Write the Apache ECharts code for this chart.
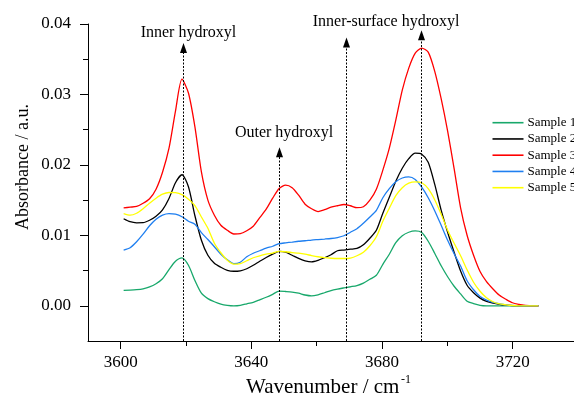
<!DOCTYPE html>
<html>
<head>
<meta charset="utf-8">
<script src="https://cdn.jsdelivr.net/npm/echarts@6/dist/echarts.min.js"></script>
<style>
html,body{margin:0;padding:0;background:#fff;}
#chart{width:574px;height:396px;}
</style>
</head>
<body>
<div id="chart"></div>
<script>
// ---- data ----
const wavenumbers = [3601,3603,3605,3607,3609,3611,3613,3615,3617,3619,3621,3623,3625,3627,3629,3631,3633,3635,3637,3639,3641,3643,3645,3647,3649,3651,3653,3655,3657,3659,3661,3663,3665,3667,3669,3671,3673,3675,3677,3679,3681,3683,3685,3687,3689,3691,3693,3695,3697,3699,3701,3703,3705,3707,3709,3711,3713,3715,3717,3719,3721,3723,3725,3727,3729];

const sample1 = [0.00220,0.00223,0.00229,0.00241,0.00267,0.00313,0.00384,0.00514,0.00632,0.00680,0.00575,0.00358,0.00178,0.00102,0.00057,0.00024,0.00007,0.00000,0.00007,0.00028,0.00050,0.00085,0.00121,0.00163,0.00209,0.00203,0.00195,0.00178,0.00153,0.00141,0.00156,0.00185,0.00216,0.00237,0.00254,0.00270,0.00287,0.00322,0.00376,0.00433,0.00589,0.00732,0.00895,0.00994,0.01044,0.01063,0.01040,0.00916,0.00746,0.00568,0.00412,0.00277,0.00168,0.00064,0.00031,0.00007,0,0,0,0,0,0,0,0,0];

const sample2 = [0.01236,0.01193,0.01178,0.01179,0.01214,0.01271,0.01362,0.01523,0.01747,0.01860,0.01690,0.01278,0.00930,0.00717,0.00604,0.00547,0.00504,0.00490,0.00497,0.00526,0.00575,0.00632,0.00685,0.00732,0.00771,0.00760,0.00717,0.00672,0.00639,0.00624,0.00646,0.00682,0.00724,0.00781,0.00791,0.00803,0.00814,0.00866,0.00959,0.01072,0.01314,0.01541,0.01768,0.01953,0.02088,0.02166,0.02152,0.02038,0.01726,0.01357,0.01044,0.00760,0.00493,0.00291,0.00185,0.00109,0.00064,0.00038,0.00021,0.00010,0.00003,0,0,0,0];

const sample3 = [0.01389,0.01400,0.01410,0.01456,0.01520,0.01655,0.01896,0.02237,0.02763,0.03217,0.03020,0.02540,0.01900,0.01500,0.01286,0.01143,0.01072,0.01019,0.01023,0.01065,0.01129,0.01250,0.01371,0.01527,0.01665,0.01712,0.01676,0.01570,0.01442,0.01378,0.01337,0.01364,0.01399,0.01420,0.01438,0.01420,0.01392,0.01406,0.01499,0.01655,0.01925,0.02237,0.02635,0.03061,0.03374,0.03587,0.03658,0.03601,0.03332,0.02940,0.02479,0.01946,0.01390,0.01001,0.00717,0.00487,0.00344,0.00239,0.00149,0.00092,0.00043,0.00021,0.00007,0,0];

const sample4 = [0.00791,0.00824,0.00909,0.01016,0.01136,0.01229,0.01286,0.01307,0.01300,0.01264,0.01200,0.01158,0.01038,0.00940,0.00838,0.00732,0.00653,0.00597,0.00618,0.00696,0.00746,0.00781,0.00817,0.00845,0.00881,0.00894,0.00905,0.00916,0.00923,0.00933,0.00940,0.00947,0.00955,0.00969,0.00994,0.01044,0.01094,0.01172,0.01260,0.01354,0.01533,0.01662,0.01760,0.01814,0.01830,0.01793,0.01683,0.01534,0.01350,0.01143,0.00930,0.00739,0.00564,0.00355,0.00227,0.00131,0.00081,0.00047,0.00028,0.00013,0.00004,0,0,0,0];

const sample5 = [0.01308,0.01286,0.01314,0.01378,0.01456,0.01527,0.01584,0.01608,0.01605,0.01577,0.01513,0.01423,0.01260,0.01100,0.00888,0.00753,0.00646,0.00590,0.00599,0.00639,0.00682,0.00710,0.00732,0.00749,0.00771,0.00767,0.00756,0.00746,0.00732,0.00713,0.00696,0.00683,0.00675,0.00671,0.00671,0.00678,0.00710,0.00760,0.00852,0.00980,0.01200,0.01385,0.01563,0.01676,0.01740,0.01760,0.01747,0.01662,0.01506,0.01300,0.01072,0.00888,0.00710,0.00511,0.00334,0.00206,0.00114,0.00057,0.00026,0.00013,0.00004,0,0,0,0];

const seriesNames = ['Sample 1','Sample 2','Sample 3','Sample 4','Sample 5'];
const seriesColors = ['#18a86b','#000000','#ff0000','#1f7ff0','#ffff00'];

// axis ranges / tick values
const X_MIN = 3590, X_MAX = 3740;
const Y_MIN = -0.005, Y_MAX = 0.04;
const xMajorTicks = [3600, 3720, 40];   // from, to, step (labelled)
const xMinorTicks = [3620, 3700, 40];   // from, to, step
const yMajorTicks = [0, 0.04, 0.01];    // labelled
const yMinorTicks = [0.005, 0.035, 0.01];

// annotations (arrow positions in data units)
const arrowX   = [3619.3, 3649, 3669.5, 3692.8];
const arrowTop = [0.0373, 0.0225, 0.0381, 0.0391];
const annText  = ['Inner hydroxyl','Outer hydroxyl','Inner-surface hydroxyl'];
const annX     = [3621, 3650.5, 3682];
const annY     = [0.0388, 0.0246, 0.0403];

// ---- layout ----
const FONT = '"Liberation Serif","Times New Roman",serif';
const G = {left: 88, top: 24, width: 490, height: 317};
const xPx = v => G.left + (v - X_MIN) / (X_MAX - X_MIN) * G.width;
const yPx = v => G.top + (Y_MAX - v) / (Y_MAX - Y_MIN) * G.height;

function subGridX(t) { // grid spanning x tick range, same bottom
  return {left: xPx(t[0]), width: xPx(t[1]) - xPx(t[0]), top: G.top, height: G.height};
}
function subGridY(t) {
  return {left: G.left, width: G.width, top: yPx(t[1]), height: yPx(t[0]) - yPx(t[1])};
}

const chart = echarts.init(document.getElementById('chart'), null, {renderer:'canvas'});
const allSamples = [sample1, sample2, sample3, sample4, sample5];

const lineSeries = allSamples.map((vals, i) => ({
  name: seriesNames[i],
  type: 'line',
  xAxisIndex: 0, yAxisIndex: 0,
  data: wavenumbers.map((w, j) => [w, vals[j]]),
  symbol: 'none',
  smooth: 0.25,
  lineStyle: {color: seriesColors[i], width: 1.3},
  itemStyle: {color: seriesColors[i]},
  z: 3
}));

const arrowSeries = {
  type: 'custom',
  xAxisIndex: 0, yAxisIndex: 0,
  clip: false,
  silent: true,
  z: 5,
  data: arrowX.map((x, i) => [x, arrowTop[i]]),
  renderItem: function (params, api) {
    const x = api.value(0), top = api.value(1);
    const p0 = api.coord([x, Y_MIN]);
    const p1 = api.coord([x, top]);
    const px = Math.round(p0[0]) + 0.5;
    return {
      type: 'group',
      children: [
        {type: 'line', shape: {x1: px, y1: p0[1], x2: px, y2: p1[1] + 8},
         style: {stroke: '#000', lineWidth: 1, lineDash: [2, 1.5]}},
        {type: 'polygon', shape: {points: [[px, p1[1]], [px - 3.5, p1[1] + 10], [px + 3.5, p1[1] + 10]]},
         style: {fill: '#000'}}
      ]
    };
  }
};

const labelSeries = {
  type: 'custom',
  xAxisIndex: 0, yAxisIndex: 0,
  clip: false,
  silent: true,
  z: 6,
  data: annX.map((x, i) => [x, annY[i]]),
  renderItem: function (params, api) {
    const p = api.coord([api.value(0), api.value(1)]);
    return {
      type: 'text',
      x: p[0], y: p[1],
      style: {text: annText[params.dataIndex], fill: '#000',
        font: '16px ' + FONT, align: 'center', verticalAlign: 'middle'}
    };
  }
};

const hiddenAxis = (type, gi) => ({type: 'value', gridIndex: gi, show: false, min: 0, max: 1});
const labelStyle = {fontFamily: FONT, fontSize: 17, color: '#000'};

chart.setOption({
  animation: false,
  backgroundColor: '#fff',
  grid: [
    Object.assign({}, G),
    subGridX(xMajorTicks),
    subGridX(xMinorTicks),
    subGridY(yMajorTicks),
    subGridY(yMinorTicks)
  ],
  legend: {
    data: seriesNames,
    orient: 'vertical',
    left: 492.5, top: 115.7,
    padding: 0,
    icon: 'rect',
    itemWidth: 31, itemHeight: 1.6, itemGap: 2.25,
    textStyle: {fontFamily: FONT, fontSize: 13, lineHeight: 14, color: '#000', padding: [0,0,0,-1]},
    selectedMode: false
  },
  xAxis: [
    { // main data axis
      type: 'value', gridIndex: 0, min: X_MIN, max: X_MAX, position: 'bottom',
      axisLine: {show: true, onZero: false, lineStyle: {color: '#000', width: 1}},
      axisTick: {show: false}, axisLabel: {show: false}, splitLine: {show: false}
    },
    { // major ticks + labels
      type: 'value', gridIndex: 1, min: xMajorTicks[0], max: xMajorTicks[1], interval: xMajorTicks[2], position: 'bottom',
      axisLine: {show: false},
      axisTick: {show: true, length: 8, lineStyle: {color: '#000'}},
      axisLabel: Object.assign({margin: 13, formatter: v => String(v)}, labelStyle),
      splitLine: {show: false}
    },
    { // minor ticks
      type: 'value', gridIndex: 2, min: xMinorTicks[0], max: xMinorTicks[1], interval: xMinorTicks[2], position: 'bottom',
      axisLine: {show: false},
      axisTick: {show: true, length: 5, lineStyle: {color: '#000'}},
      axisLabel: {show: false}, splitLine: {show: false}
    },
    hiddenAxis('x', 3),
    hiddenAxis('x', 4)
  ],
  yAxis: [
    {
      type: 'value', gridIndex: 0, min: Y_MIN, max: Y_MAX, position: 'left',
      axisLine: {show: true, onZero: false, lineStyle: {color: '#000', width: 1}},
      axisTick: {show: false}, axisLabel: {show: false}, splitLine: {show: false}
    },
    hiddenAxis('y', 1),
    hiddenAxis('y', 2),
    {
      type: 'value', gridIndex: 3, min: yMajorTicks[0], max: yMajorTicks[1], interval: yMajorTicks[2], position: 'left',
      axisLine: {show: false},
      axisTick: {show: true, length: 8, lineStyle: {color: '#000'}},
      axisLabel: Object.assign({margin: 17, formatter: v => v.toFixed(2)}, labelStyle),
      splitLine: {show: false}
    },
    {
      type: 'value', gridIndex: 4, min: yMinorTicks[0], max: yMinorTicks[1], interval: yMinorTicks[2], position: 'left',
      axisLine: {show: false},
      axisTick: {show: true, length: 5, lineStyle: {color: '#000'}},
      axisLabel: {show: false}, splitLine: {show: false}
    }
  ],
  graphic: [
    {type: 'text', x: 23, y: 167, rotation: Math.PI / 2,
     style: {text: 'Absorbance / a.u.', font: '18px ' + FONT, fill: '#000', align: 'center', verticalAlign: 'middle'}},
    {type: 'text', x: 246, y: 387,
     style: {text: 'Wavenumber / cm', font: '21px ' + FONT, fill: '#000', align: 'left', verticalAlign: 'middle'}},
    {type: 'text', x: 401, y: 380,
     style: {text: '-1', font: '12px ' + FONT, fill: '#000', align: 'left', verticalAlign: 'middle'}}
  ],
  series: lineSeries.concat([arrowSeries, labelSeries])
});
</script>
</body>
</html>
